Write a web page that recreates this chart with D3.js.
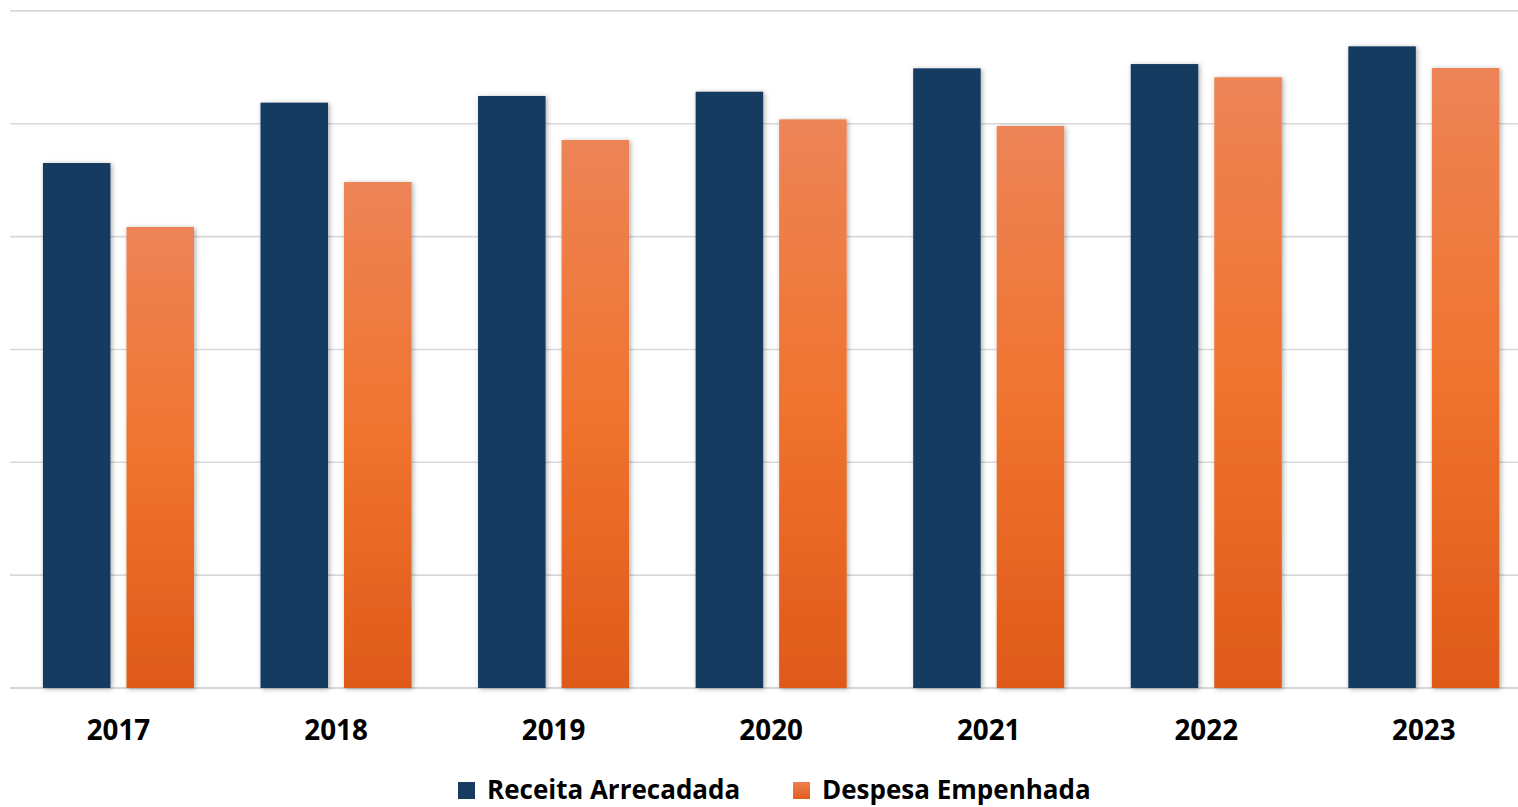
<!DOCTYPE html>
<html><head><meta charset="utf-8">
<script src="https://cdn.jsdelivr.net/npm/d3@7/dist/d3.min.js"></script>
<style>html,body{margin:0;padding:0;background:#fff;}svg{display:block;}</style>
</head><body>
<svg id="chart" width="1518" height="807"></svg>
<script>
const years = ["2017","2018","2019","2020","2021","2022","2023"];
const seriesNames = ["Receita Arrecadada","Despesa Empenhada"];
const receita = [4.652, 5.187, 5.246, 5.284, 5.491, 5.529, 5.686];
const despesa = [4.085, 4.484, 4.856, 5.039, 4.980, 5.412, 5.494];
const yTicks = [0,1,2,3,4,5,6];

const svg = d3.select("#chart");
const W = 1518, H = 807;
const baseY = 688, topY = 10.9;
const y = d3.scaleLinear().domain([0,6]).range([baseY, topY]);
const x0 = d3.scaleBand().domain(years).range([9.7, 1532.6]).paddingInner(0.3057).paddingOuter(0.1528);
const x1 = d3.scaleBand().domain(seriesNames).range([0, x0.bandwidth()]).paddingInner(0.1916).paddingOuter(0);

const defs = svg.append("defs");
const g = defs.append("linearGradient").attr("id","orangeGrad").attr("x1",0).attr("y1",0).attr("x2",0).attr("y2",1);
g.append("stop").attr("offset","0%").attr("stop-color","#ED8457");
g.append("stop").attr("offset","50%").attr("stop-color","#F0732E");
g.append("stop").attr("offset","100%").attr("stop-color","#DF5A19");
const lg = defs.append("linearGradient").attr("id","orangeLeg").attr("x1",0).attr("y1",0).attr("x2",0).attr("y2",1);
lg.append("stop").attr("offset","0%").attr("stop-color","#EE8050");
lg.append("stop").attr("offset","100%").attr("stop-color","#E05F1E");
const f = defs.append("filter").attr("id","shadow").attr("x","-20%").attr("y","-10%").attr("width","140%").attr("height","120%");
f.append("feDropShadow").attr("dx",1.5).attr("dy",1).attr("stdDeviation",2.4).attr("flood-color","#000").attr("flood-opacity",0.32);

// gridlines
svg.append("g").selectAll("line").data(yTicks).join("line")
  .attr("x1",10).attr("x2",W)
  .attr("y1",d=>y(d)).attr("y2",d=>y(d))
  .attr("stroke",d=>d===0?"#C8C8C8":"#D9D9D9").attr("stroke-width",1.6);

const colors = {"Receita Arrecadada":"#173B61","Despesa Empenhada":"url(#orangeGrad)"};
const data = years.map((yr,i)=>({year:yr, vals:[{s:seriesNames[0],v:receita[i]},{s:seriesNames[1],v:despesa[i]}]}));

const groups = svg.append("g").selectAll("g").data(data).join("g")
  .attr("transform",d=>`translate(${x0(d.year)},0)`);
groups.selectAll("rect").data(d=>d.vals).join("rect")
  .attr("x",d=>x1(d.s)).attr("width",x1.bandwidth())
  .attr("y",d=>y(d.v)).attr("height",d=>y(0)-y(d.v))
  .attr("fill",d=>colors[d.s]).attr("filter","url(#shadow)");

// x labels
svg.append("g").selectAll("text").data(years).join("text")
  .attr("x",d=>x0(d)+x0.bandwidth()/2).attr("y",740)
  .attr("text-anchor","middle")
  .attr("font-family","'Open Sans', sans-serif").attr("font-weight","bold")
  .attr("font-size",27.8).attr("fill","#000").text(d=>d);

// legend
const leg = [{name:seriesNames[0], fill:"#173B61", sx:458, tx:487},{name:seriesNames[1], fill:"url(#orangeLeg)", sx:793, tx:822}];
const lgG = svg.append("g").selectAll("g").data(leg).join("g");
lgG.append("rect").attr("x",d=>d.sx).attr("y",782).attr("width",17).attr("height",17).attr("fill",d=>d.fill);
lgG.append("text").attr("x",d=>d.tx).attr("y",799)
  .attr("font-family","'Open Sans', sans-serif").attr("font-weight","bold")
  .attr("font-size",26).attr("fill","#000").text(d=>d.name);
</script>
</body></html>
